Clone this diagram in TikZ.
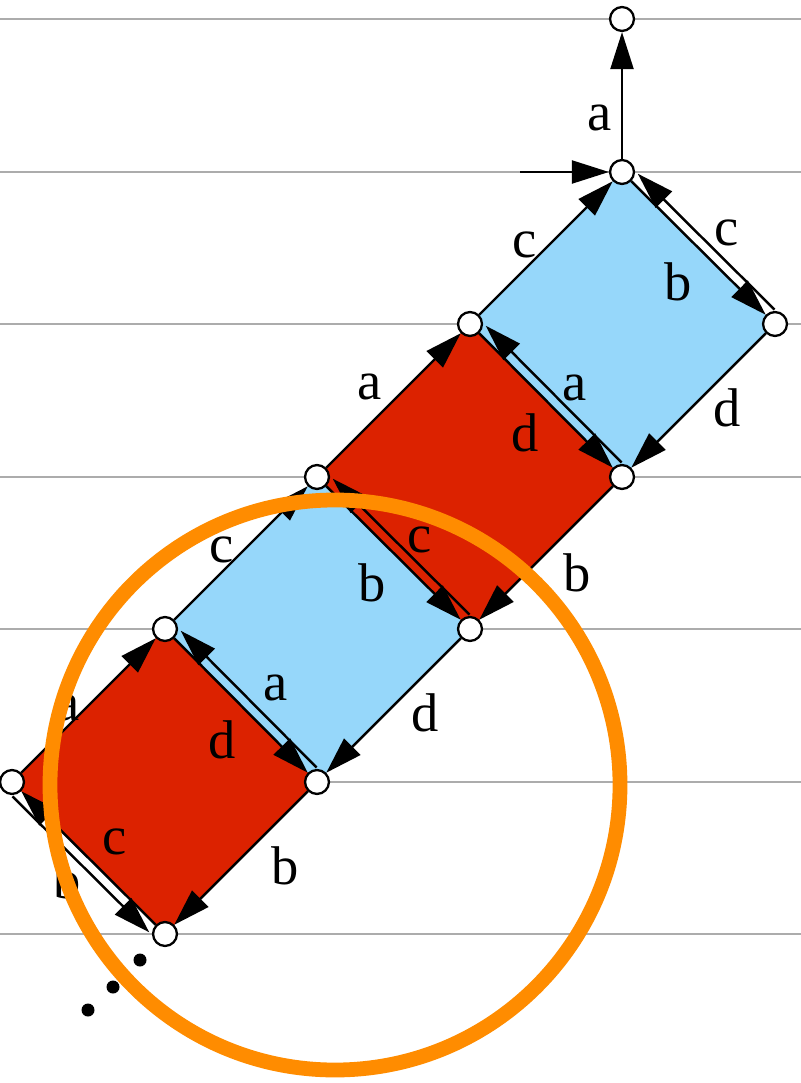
\documentclass[tikz,border=0pt]{standalone}
\usepackage{fontspec}
\setmainfont{Liberation Serif}
\usetikzlibrary{arrows.meta,backgrounds}
\definecolor{skyfill}{RGB}{150,215,250}
\definecolor{brickfill}{RGB}{220,34,0}
\definecolor{ringorange}{RGB}{255,140,0}
\definecolor{rulegray}{RGB}{172,172,172}
\tikzset{
  vtx/.style={circle,draw,fill=white,line width=0.65pt,minimum size=6.8pt,inner sep=0pt},
  edge/.style={line width=0.7pt,-{Triangle[length=10.5pt,width=6.5pt]}},
  twin/.style={edge,shorten <=3pt,shorten >=3.5pt},
  lab/.style={font=\fontsize{15.5}{15.5}\selectfont,inner sep=0pt},
}
\begin{document}
\begin{tikzpicture}[x=0.01cm,y=-0.01cm]
	\useasboundingbox (0,0) rectangle (801,1083);
	
	% corners of the chain of squares (pixel grid, y down)
	\node[vtx] (top) at (622,19) {};
	\node[vtx] (p1) at (622,172) {};
	\node[vtx] (p2) at (470,324) {};
	\node[vtx] (q2) at (775,324) {};
	\node[vtx] (p3) at (317,477) {};
	\node[vtx] (q3) at (622,477) {};
	\node[vtx] (p4) at (165,629) {};
	\node[vtx] (q4) at (470,629) {};
	\node[vtx] (p5) at (12,782) {};
	\node[vtx] (q5) at (317,782) {};
	\node[vtx] (q6) at (165,934) {};
	\coordinate (entry) at (520,172);
	
	\begin{scope}[on background layer]
		% ruled lines
		\foreach \y in {19,172,324,477,629,782,934}
			\draw[rulegray, line width=0.6pt] (0,\y) -- (801,\y);
		% the squares
		\fill[skyfill] (p2.center) -- (p1.center) -- (q2.center) -- (q3.center) -- cycle;
		\fill[brickfill] (p3.center) -- (p2.center) -- (q3.center) -- (q4.center) -- cycle;
		\fill[skyfill] (p4.center) -- (p3.center) -- (q4.center) -- (q5.center) -- cycle;
		\fill[brickfill] (p5.center) -- (p4.center) -- (q5.center) -- (q6.center) -- cycle;
	\end{scope}
	
	% top
	\draw[edge] (p1) -- (top);
	\draw[edge] (entry) -- (p1);
	\node[lab] (la0) at (600,118) {a};
	
	% blue square 1
	\draw[edge] (p2) -- (p1);
	\draw[edge] (p1) -- (q2);
	\draw[twin] ([shift={(7,-7)}]q2.center) -- ([shift={(7,-7)}]p1.center);
	\draw[edge] (q2) -- (q3);
	\node[lab] (lc1) at (525,245) {c};
	\node[lab] (lb1) at (678,282) {b};
	\node[lab] (lc1o) at (727,233) {c};
	\node[lab] (ld1) at (727,408) {d};
	
	% red square 2
	\draw[edge] (p3) -- (p2);
	\draw[edge] (p2) -- (q3);
	\draw[twin] ([shift={(7,-7)}]q3.center) -- ([shift={(7,-7)}]p2.center);
	\draw[edge] (q3) -- (q4);
	\node[lab] (la2) at (370,387) {a};
	\node[lab] (ld2) at (525,433) {d};
	\node[lab] (la2o) at (575,388) {a};
	\node[lab] (lb2) at (577,573) {b};
	
	% blue square 3
	\draw[edge] (p4) -- (p3);
	\draw[edge] (p3) -- (q4);
	\draw[twin] ([shift={(7,-7)}]q4.center) -- ([shift={(7,-7)}]p3.center);
	\draw[edge] (q4) -- (q5);
	\node[lab] (lc3) at (222,550) {c};
	\node[lab] (lb3) at (372,583) {b};
	\node[lab] (lc3o) at (420,540) {c};
	\node[lab] (ld3) at (425,713) {d};
	
	% red square 4
	\draw[edge] (p5) -- (p4);
	\draw[edge] (p4) -- (q5);
	\draw[twin] ([shift={(7,-7)}]q5.center) -- ([shift={(7,-7)}]p4.center);
	\draw[edge] (q5) -- (q6);
	\draw[edge] (q6) -- (p5);
	\draw[twin] ([shift={(-7,7)}]p5.center) -- ([shift={(-7,7)}]q6.center);
	\node[lab] (la4) at (68,708) {a};
	\node[lab] (ld4) at (222,740) {d};
	\node[lab] (la4o) at (276,688) {a};
	\node[lab] (lb4) at (285,866) {b};
	\node[lab] (lc4) at (115,842) {c};
	\node[lab] (lb4o) at (67,880) {b};
	
	% and so on
	\foreach \x/\y in {140/960,113/987,88/1010}
		\fill (\x,\y) circle (6.5);
	
	% highlight ring
	\draw[ringorange, line width=4.2pt] (335,785) circle (285);
	
\end{tikzpicture}
\end{document}
